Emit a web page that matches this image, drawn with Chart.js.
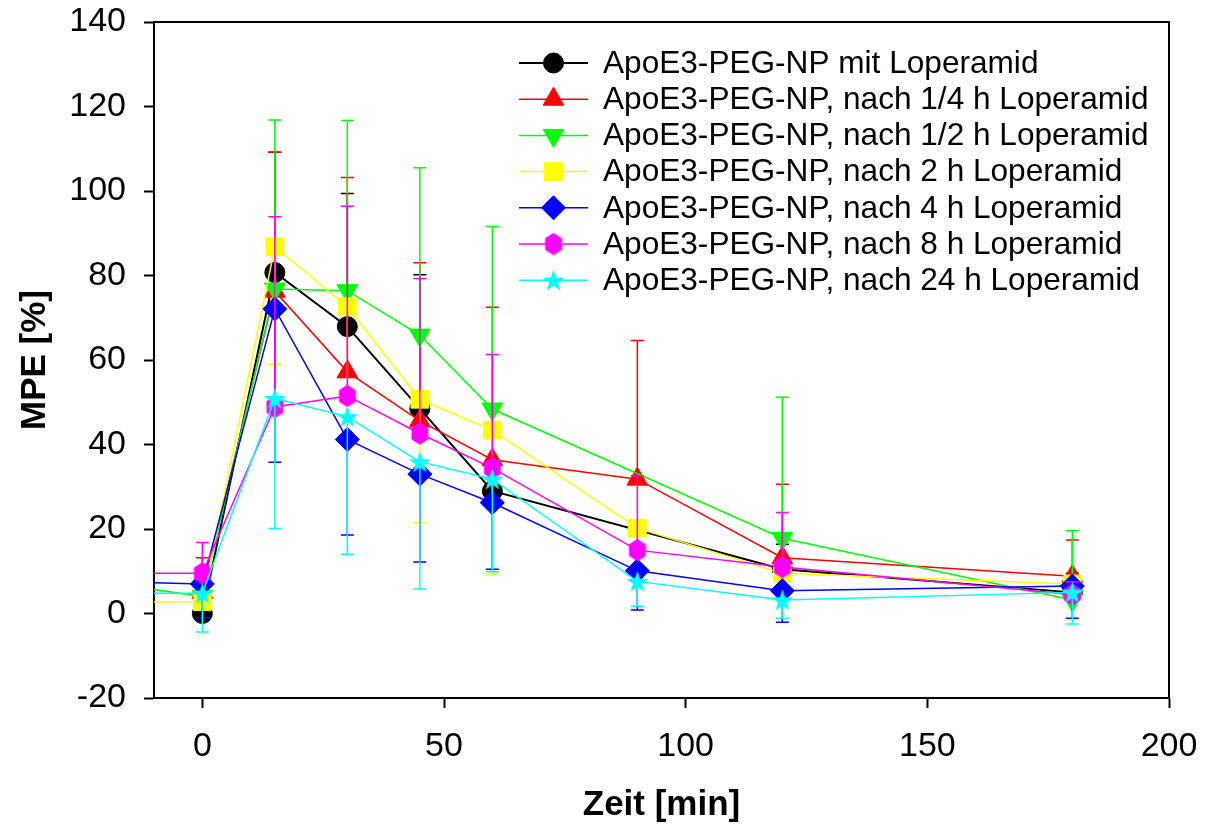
<!DOCTYPE html>
<html>
<head>
<meta charset="utf-8">
<script src="https://cdn.jsdelivr.net/npm/chart.js@4/dist/chart.umd.min.js"></script>
<style>
  html, body { margin: 0; padding: 0; background: #fff; }
  #wrap { width: 1210px; height: 827px; }
</style>
</head>
<body>
<div id="wrap"><canvas id="mpe_chart" width="1210" height="827"></canvas></div>
<script>
// Zeitpunkte (min); -15 = Basiswert vor Injektion (liegt links außerhalb der Achse)
const TIMES   = [-15, 0, 15, 30, 45, 60, 90, 120, 180];
const X_TICKS = [0, 50, 100, 150, 200];
const Y_TICKS = [-20, 0, 20, 40, 60, 80, 100, 120, 140];

const LABELS = [
  "ApoE3-PEG-NP mit Loperamid",
  "ApoE3-PEG-NP, nach 1/4 h Loperamid",
  "ApoE3-PEG-NP, nach 1/2 h Loperamid",
  "ApoE3-PEG-NP, nach 2 h Loperamid",
  "ApoE3-PEG-NP, nach 4 h Loperamid",
  "ApoE3-PEG-NP, nach 8 h Loperamid",
  "ApoE3-PEG-NP, nach 24 h Loperamid",
];
const COLORS = ["#000000", "#ff0000", "#00ff00", "#ffff00", "#0000ff", "#ff00ff", "#00ffff"];

// MPE [%] Mittelwerte
const MPE_MIT  = [null, 0.0, 80.7, 67.9, 48.5, 29.0, null, 10.5, 5.0];
const MPE_H025 = [null, 5.0, 76.3, 57.2, 45.6, 36.4, 31.8, 13.2, 8.8];
const MPE_H05  = [6.5, 4.0, 76.8, 76.4, 65.9, 48.4, null, 17.8, 3.2];
const MPE_H2   = [2.7, 2.8, 86.8, 72.6, 50.7, 43.4, 20.2, 9.5, 7.0];
const MPE_H4   = [7.4, 7.0, 72.1, 41.2, 33.0, 26.2, 10.1, 5.4, 6.5];
const MPE_H8   = [9.5, 9.5, 48.9, 51.5, 42.6, 34.4, 15.0, 11.0, 4.5];
const MPE_H24  = [4.8, 4.8, 50.9, 46.6, 35.9, 31.8, 7.6, 3.2, 5.0];

// Standardabweichungen
const SD_MIT  = [null, 3.0, 28.5, 31.5, 31.7, 6.0, null, 5.9, 4.5];
const SD_H025 = [null, 8.2, 32.9, 46.0, 37.4, 36.1, 32.8, 17.4, 8.6];
const SD_H05  = [null, 2.0, 40.0, 40.3, 39.6, 43.2, null, 33.4, 16.4];
const SD_H2   = [null, 2.0, 27.8, 21.0, 29.2, 34.3, 12.0, 4.0, 2.0];
const SD_H4   = [null, 8.0, 36.3, 22.6, 20.8, 15.7, 9.3, 7.5, 7.6];
const SD_H8   = [null, 7.3, 45.0, 44.9, 36.7, 26.9, 17.6, 12.9, 3.0];
const SD_H24  = [null, 9.2, 30.8, 32.6, 30.1, 21.9, 5.9, 4.3, 7.5];

// Fehlerbalken nur in eine Richtung: +1 nach oben, -1 nach unten
const ERR_DIR = [1, 1, 1, -1, -1, 1, -1];

const SERIES = [MPE_MIT, MPE_H025, MPE_H05, MPE_H2, MPE_H4, MPE_H8, MPE_H24];
const ERRORS = [SD_MIT, SD_H025, SD_H05, SD_H2, SD_H4, SD_H8, SD_H24];

const FONT = "'Liberation Sans', Arial, Helvetica, sans-serif";

function makeHexagon(color) {
  const c = document.createElement("canvas");
  c.width = 20; c.height = 23;
  const g = c.getContext("2d");
  g.fillStyle = color;
  g.beginPath();
  for (let k = 0; k < 6; k++) {
    const a = Math.PI / 2 + k * Math.PI / 3;
    const px = 10 + Math.cos(a) * 11.3 * 0.86;
    const py = 11.5 + Math.sin(a) * 11.3;
    k ? g.lineTo(px, py) : g.moveTo(px, py);
  }
  g.closePath();
  g.fill();
  return c;
}

function makeStar(color) {
  const c = document.createElement("canvas");
  c.width = 23; c.height = 23;
  const g = c.getContext("2d");
  g.fillStyle = color;
  g.beginPath();
  for (let k = 0; k < 10; k++) {
    const r = k % 2 ? 4.6 : 11.5;
    const a = -Math.PI / 2 + k * Math.PI / 5;
    const px = 11.5 + Math.cos(a) * r;
    const py = 12.5 + Math.sin(a) * r;
    k ? g.lineTo(px, py) : g.moveTo(px, py);
  }
  g.closePath();
  g.fill();
  return c;
}

const MARKERS = [
  { pointStyle: "circle",   radius: 10,   rotation: 0 },
  { pointStyle: "triangle", radius: 12,   rotation: 0 },
  { pointStyle: "triangle", radius: 12,   rotation: 180 },
  { pointStyle: "rect",     radius: 12.5, rotation: 0 },
  { pointStyle: "rectRot",  radius: 12,   rotation: 0 },
  { pointStyle: makeHexagon(COLORS[5]), radius: 10, rotation: 0 },
  { pointStyle: makeStar(COLORS[6]),    radius: 10, rotation: 0 },
];

// Fehlerbalken je Datensatz direkt nach dessen Zeichnung
const errorBars = {
  id: "errorBars",
  afterDatasetDraw(chart, args) {
    const i = args.index;
    const sd = ERRORS[i];
    const vals = SERIES[i];
    const ys = chart.scales.y;
    const a = chart.chartArea;
    const ctx = chart.ctx;
    ctx.save();
    ctx.beginPath();
    ctx.rect(a.left, a.top, a.right - a.left, a.bottom - a.top);
    ctx.clip();
    ctx.strokeStyle = COLORS[i];
    ctx.lineWidth = 1.5;
    args.meta.data.forEach((pt, j) => {
      if (vals[j] == null || sd[j] == null) return;
      const y0 = ys.getPixelForValue(vals[j]);
      const y1 = ys.getPixelForValue(vals[j] + ERR_DIR[i] * sd[j]);
      ctx.beginPath();
      ctx.moveTo(pt.x, y0);
      ctx.lineTo(pt.x, y1);
      ctx.moveTo(pt.x - 6.5, y1);
      ctx.lineTo(pt.x + 6.5, y1);
      ctx.stroke();
    });
    ctx.restore();
  },
};

const frameAndLegend = {
  id: "frameAndLegend",
  afterDraw(chart) {
    const ctx = chart.ctx;
    const a = chart.chartArea;
    ctx.save();
    // Rahmen oben / rechts
    ctx.strokeStyle = "#000";
    ctx.lineWidth = 2;
    ctx.beginPath();
    ctx.moveTo(a.left - 1, a.top);
    ctx.lineTo(a.right, a.top);
    ctx.lineTo(a.right, a.bottom + 1);
    ctx.stroke();

    // Legende im Diagramm
    const drawPoint = Chart.helpers && Chart.helpers.drawPoint;
    ctx.font = "31.6px " + FONT;
    ctx.textBaseline = "middle";
    ctx.textAlign = "left";
    LABELS.forEach((lab, i) => {
      const y = a.top + 41 + i * 36.2;
      const x0 = a.left + 365, x1 = a.left + 434, xm = a.left + 399.5;
      ctx.strokeStyle = COLORS[i];
      ctx.fillStyle = COLORS[i];
      ctx.lineWidth = i === 0 ? 2 : 1.5;
      ctx.beginPath();
      ctx.moveTo(x0, y);
      ctx.lineTo(x1, y);
      ctx.stroke();
      const m = MARKERS[i];
      if (typeof m.pointStyle === "object") {
        ctx.drawImage(m.pointStyle, xm - m.pointStyle.width / 2, y - m.pointStyle.height / 2);
      } else if (drawPoint) {
        ctx.lineWidth = 1;
        drawPoint(ctx, { pointStyle: m.pointStyle, radius: m.radius, rotation: m.rotation, borderWidth: 1 }, xm, y);
      }
      ctx.fillStyle = "#000";
      ctx.fillText(lab, a.left + 449, y + 1);
    });
    ctx.restore();
  },
};

const datasets = SERIES.map((vals, i) => ({
  label: LABELS[i],
  data: TIMES.map((t, j) => ({ x: t, y: vals[j] })),
  borderColor: COLORS[i],
  backgroundColor: COLORS[i],
  borderWidth: i === 0 ? 2 : 1.5,
  pointStyle: MARKERS[i].pointStyle,
  pointRadius: MARKERS[i].radius,
  pointRotation: MARKERS[i].rotation,
  pointBorderWidth: 1,
  pointHoverRadius: MARKERS[i].radius,
  spanGaps: true,
  tension: 0,
  order: SERIES.length - i,
}));

const axisTicks = (list) => (scale) => { scale.ticks = list.map((v) => ({ value: v })); };

new Chart(document.getElementById("mpe_chart"), {
  type: "line",
  data: { datasets },
  options: {
    responsive: false,
    devicePixelRatio: 1,
    animation: false,
    layout: { padding: { top: 22, right: 41, left: 0, bottom: 0 } },
    plugins: {
      legend: { display: false },
      tooltip: { enabled: false },
    },
    scales: {
      x: {
        type: "linear",
        min: -10, max: 200,
        afterBuildTicks: axisTicks(X_TICKS),
        afterFit: (s) => { s.height = 129; s.paddingLeft = 0; s.paddingRight = 0; },
        border: { display: true, color: "#000", width: 2 },
        grid: { drawOnChartArea: false, drawTicks: true, tickLength: 10, tickColor: "#000", tickWidth: 2 },
        ticks: { color: "#000", font: { family: FONT, size: 34 }, padding: 18, maxRotation: 0 },
        title: { display: true, text: "Zeit [min]", color: "#000", font: { family: FONT, size: 35, weight: "bold" }, padding: { top: 0, bottom: 1 } },
      },
      y: {
        min: -20, max: 140,
        afterBuildTicks: axisTicks(Y_TICKS),
        afterFit: (s) => { s.width = 154; s.paddingTop = 0; s.paddingBottom = 0; },
        border: { display: true, color: "#000", width: 2 },
        grid: { drawOnChartArea: false, drawTicks: true, tickLength: 10, tickColor: "#000", tickWidth: 2 },
        ticks: { color: "#000", font: { family: FONT, size: 34 }, padding: 18 },
        title: { display: true, text: "MPE [%]", color: "#000", font: { family: FONT, size: 35, weight: "bold" }, padding: { top: 14, bottom: 0 } },
      },
    },
  },
  plugins: [errorBars, frameAndLegend],
});
</script>
</body>
</html>
